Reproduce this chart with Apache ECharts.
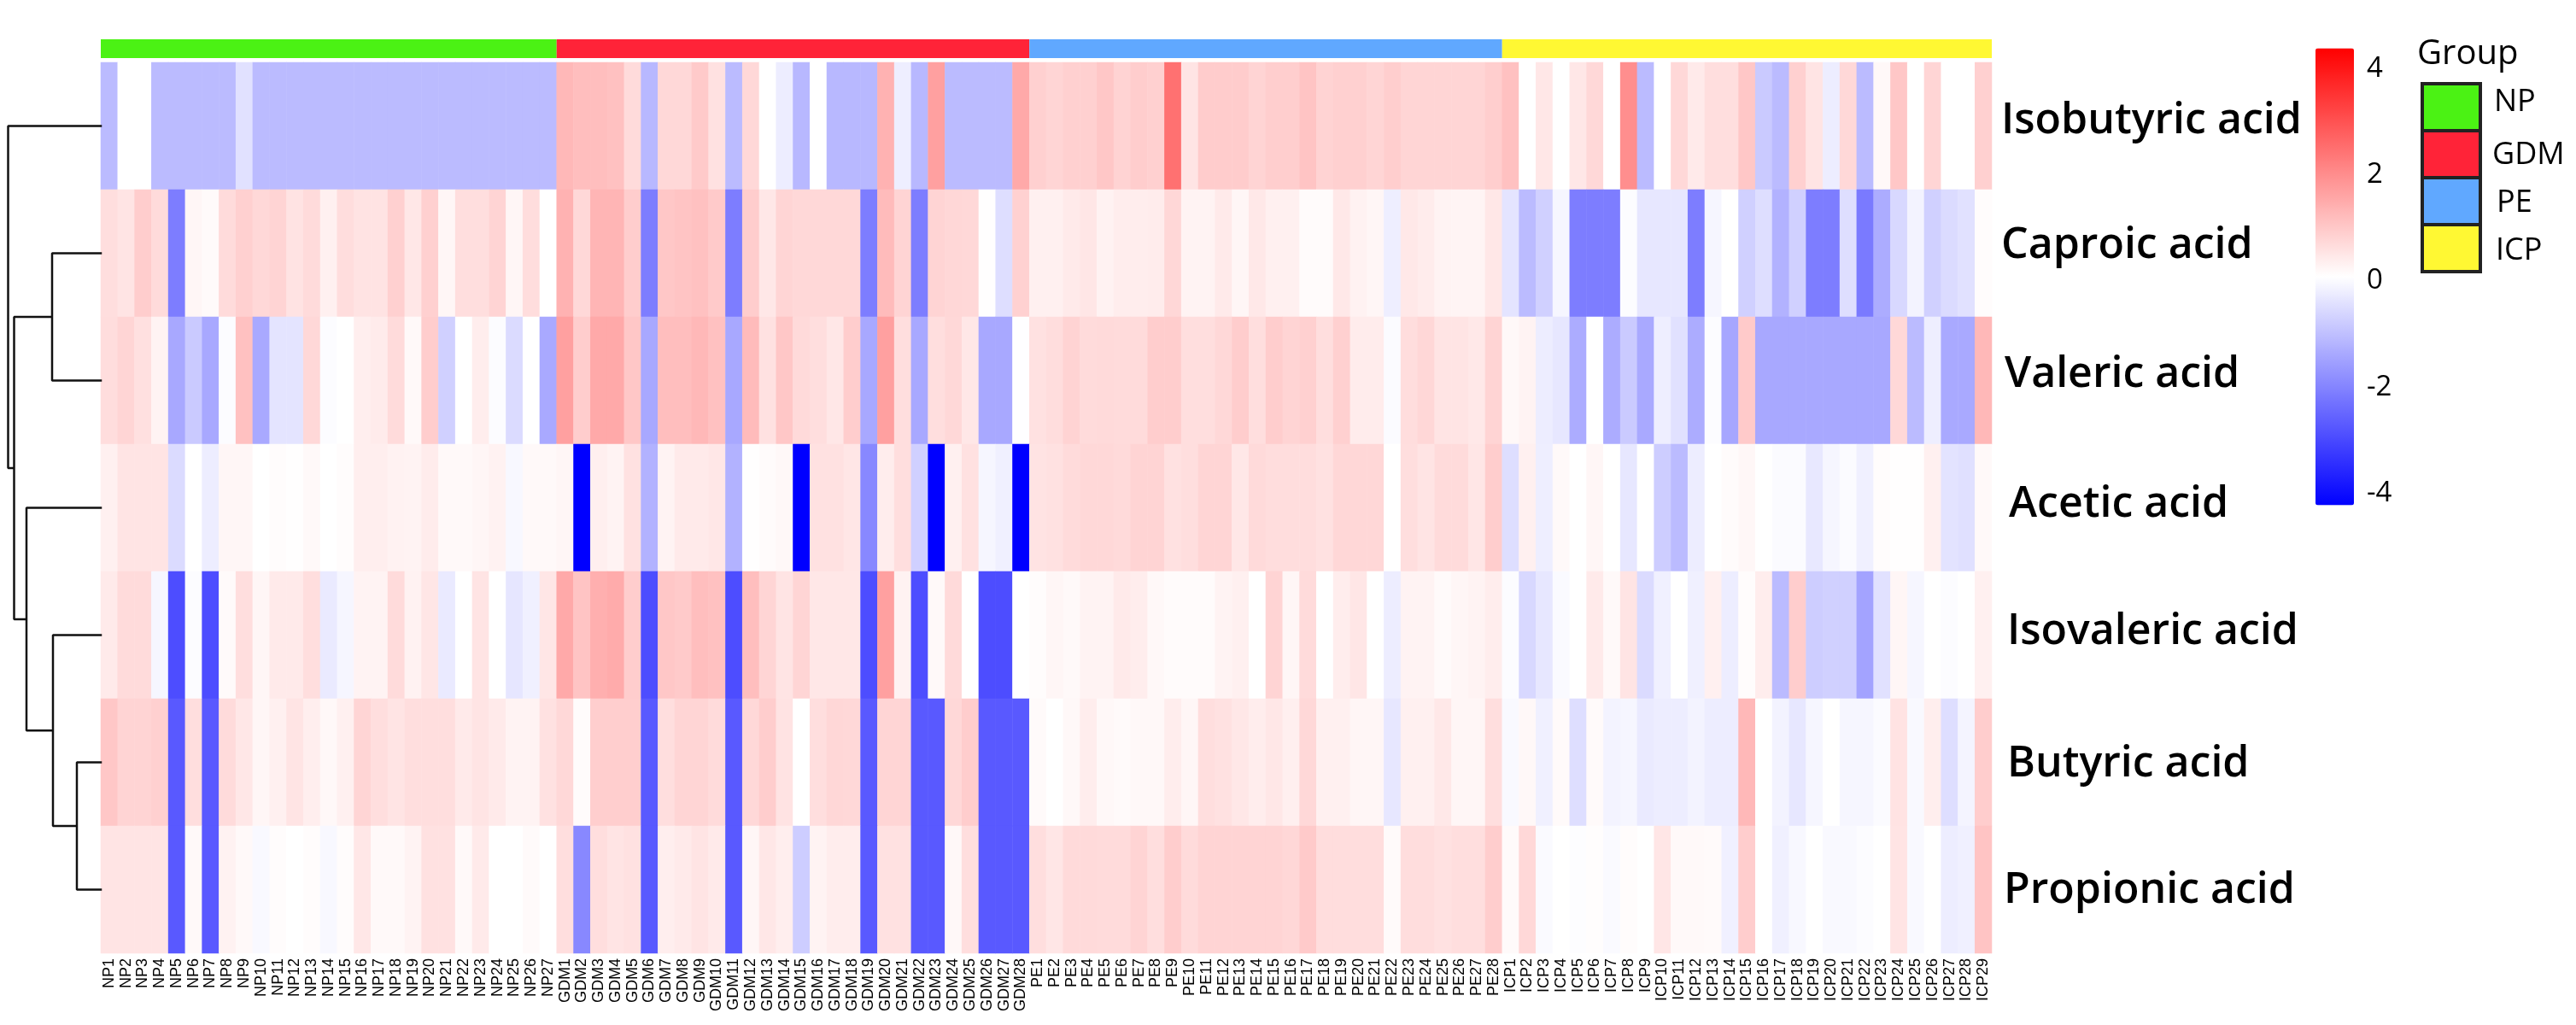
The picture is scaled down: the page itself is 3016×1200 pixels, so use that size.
<!DOCTYPE html>
<html><head><meta charset="utf-8">
<script src="https://cdn.jsdelivr.net/npm/echarts@6/dist/echarts.min.js"></script>
<style>html,body{margin:0;padding:0;background:#fff}#c{width:3016px;height:1200px}</style>
</head><body><div id="c"></div>
<script>
const acids = ['Isobutyric acid','Caproic acid','Valeric acid','Acetic acid','Isovaleric acid','Butyric acid','Propionic acid'];
const groupNames = ['NP','GDM','PE','ICP'];
const groupSizes = [27,28,28,29];
const colorTicks = [-4,-2,0,2,4];

const isobutyric = [
 -1.15,0,0,-1.15,-1.15,-1.15,-1.15,-1.15,-0.5,-1.15,-1.15,-1.15,-1.15,-1.15,-1.15,-1.15,-1.15,-1.15,-1.15,-1.15,-1.15,-1.15,-1.15,-1.15,-1.15,-1.15,-1.15,
 1.2,1.1,1.1,1.05,.6,-1.2,.65,.65,.9,.5,-1.15,.65,0,-.3,-1.2,0,-1.2,-1.2,-1.2,1.3,-.28,-1.2,1.6,-1.15,-1.15,-1.15,-1.15,1.45,
 .8,.7,.8,.8,.95,.75,.85,.8,2.4,.45,.86,.86,.86,.72,.82,.82,1,.75,.8,.8,.7,.82,.7,.7,.7,.7,.7,.82,
 1.05,0,.4,0,.4,.65,0,1.9,-1.15,0,.65,.35,.55,.55,.95,-.9,-1.15,.8,.45,-.3,.65,-1.15,.12,.95,0,.7,0,0,.8];
const caproic = [
 .55,.45,.85,.6,-2.2,.15,.08,.6,.8,.65,.72,.48,.6,.25,.58,.48,.48,.8,.4,.8,.15,.55,.55,.72,.15,.58,0,
 1.3,.65,1.25,1.25,.85,-2.2,.95,1,1.05,.9,-2.2,.85,.4,.7,.65,.65,.65,.65,-2.2,1.15,.72,-2.2,.72,.68,.65,.02,-.55,.78,
 .25,.25,.35,.42,.22,.3,.3,.32,.68,.2,.2,.35,.15,.38,.25,.25,.07,.07,.38,.22,.15,-.28,.38,.32,.2,.18,.18,.4,
 -.45,-1.15,-.8,-.15,-2.2,-2.2,-2.2,-.05,-.4,-.4,-.4,-2.2,-.15,0,-.8,-.55,-1.3,-.8,-2.2,-2.2,-.55,-2.25,-1.4,-.65,-.2,-.8,-.6,-.5,.05];
const valeric = [
 .57,.7,.52,.2,-1.47,-.9,-1.47,-.05,1.05,-1.45,-.45,-.45,.65,-.05,0,.28,.33,.6,.1,.85,-.8,0,.3,-.05,-.6,0,-1.45,
 1.6,.85,1.45,1.45,.95,-1.47,1.1,1.1,1.2,1.05,-1.47,1.15,.5,.95,.62,.55,.4,.85,-1.47,1.6,.55,-1.47,.55,.65,.4,-1.47,-1.47,-.02,
 .5,.58,.75,.6,.62,.6,.6,.85,.85,.55,.55,.65,.85,.55,.85,.72,.8,.55,.8,.32,.32,-.07,.58,.68,.45,.45,.38,.72,
 .12,.2,-.3,-.4,-1.4,0,-1.4,-.9,-1.45,-.28,-.5,-1.4,-.05,-1.5,.9,-1.47,-1.47,-1.47,-1.47,-1.47,-1.47,-1.47,-1.47,.65,-1.15,-.28,-1.45,-1.45,1.2];
const acetic = [
 .25,.45,.45,.45,-.6,0,-.3,.15,.15,0,.05,.02,.1,0,.05,.28,.28,.22,.2,.32,.1,.1,.15,.22,-.12,.1,.1,
 .15,-4.3,.27,.2,.5,-1.3,.2,.35,.35,.4,-1.3,.02,.07,.12,-4.3,.5,.5,.42,-2,.3,.55,-.8,-4.3,.25,.5,-.15,-.25,-4.3,
 .47,.5,.6,.65,.65,.62,.72,.72,.5,.55,.7,.7,.4,.62,.58,.58,.58,.5,.68,.68,.68,0,.55,.45,.6,.6,.42,.85,
 -.55,.25,-.28,.1,0,.15,0,-.4,0,-.85,-1.15,-.3,0,.07,.14,0,-.07,-.07,-.38,-.15,-.07,-.25,.05,.02,.02,.25,-.48,-.52,.1];
const isovaleric = [
 .35,.6,.6,-.15,-3,-.05,-3,.08,.55,.15,.35,.35,.55,-.35,-.15,.2,.2,.6,.22,.42,-.35,0,.45,0,-.42,-.25,.42,
 1.45,1,1.35,1.42,.85,-3,.95,.9,1.1,1.05,-3,1.1,.7,.45,.7,.4,.4,.4,-3,1.6,.22,-3,.1,.62,0,-3,-3,0,
 .05,.15,.1,.2,.2,.35,.3,.12,.07,.07,.07,.2,.25,0,.72,.15,.6,0,.3,.42,0,-.3,.2,.2,.08,.15,.2,.3,
 -.05,-.65,-.4,-.08,0,.35,.1,.45,-.6,-.25,0,-.25,.25,-.3,.05,.3,-1.15,.85,-.85,-.8,-.8,-1.55,-.5,.15,-.15,0,-.05,0,.25];
const butyric = [
 .95,.72,.72,.8,-2.8,.55,-2.8,.6,.4,.15,.25,.45,.28,.12,.25,.7,.55,.45,.55,.55,.55,.35,.45,.35,.2,.2,.5,
 .65,.07,.82,.82,.82,-2.8,.55,.7,.7,.6,-2.8,.65,.85,.48,0,.55,.68,.65,-2.8,.7,.7,-2.8,-2.8,.65,.85,-2.8,-2.8,-2.8,
 .08,0,.12,.3,.12,.08,.12,.12,.3,.15,.55,.5,.4,.3,.4,.27,.65,.25,.25,.15,.15,-.4,.25,.25,.38,.15,.15,.55,
 -.1,.12,-.25,.08,-.55,.08,-.2,-.15,-.35,-.3,-.3,-.2,-.3,-.3,1.2,0,-.2,-.4,-.15,0,-.15,-.15,-.07,.48,-.1,.28,-.55,-.18,.85];
const propionic = [
 .45,.45,.45,.45,-2.8,.1,-2.8,.22,.1,-.1,.05,0,.05,-.12,.05,.4,.1,.1,.2,.5,.5,.1,.35,0,0,.08,0,
 .55,-2,.55,.45,.5,-2.8,.28,.35,.45,.35,-2.8,.15,.4,.28,-.85,.2,.3,.3,-2.8,.5,.5,-2.8,-2.8,.12,.55,-2.8,-2.8,-2.8,
 .55,.42,.62,.62,.6,.6,.72,.55,.85,.6,.72,.72,.72,.72,.72,.68,.9,.58,.58,.58,.58,.08,.58,.58,.5,.55,.55,.85,
 .08,.65,-.08,0,-.03,.03,-.08,.05,0,.42,.1,.1,.08,-.25,.85,0,-.25,-.12,0,-.1,-.1,-.05,0,.45,-.1,0,-.3,-.25,1];
const rows = [isobutyric,caproic,valeric,acetic,isovaleric,butyric,propionic];

// Clustering of the rows: [left, right, height]; a number below 7 is a row, 7 + k is merge k
const merges = [[1,2,57],[5,6,28],[4,8,56],[3,9,87],[7,10,101.5],[0,11,108.5]];

// ---- styling / layout ----
const groupColors = ['#4BF214','#FF2338','#60A8FF','#FFF833'];
const GL = 118, GW = 2214, GT = 73, GH = 1043;
// [top, bottom, left] padding that nudges each row label
const labelShift = [[0,12,0],[0,18,0],[0,14,4],[0,8,9],[0,8,7],[4,0,7],[2,0,3]];
const FONT = '"Open Sans", sans-serif';

const samples = [];
groupNames.forEach((g,i)=>{ for(let k=1;k<=groupSizes[i];k++) samples.push(g+k); });

const heat = [];
rows.forEach((r,y)=>{ if(r.length!==samples.length) throw new Error('row '+y+' has '+r.length); r.forEach((v,x)=>heat.push([x,y,v])); });

// one span per group for the annotation strip
const spans = [];
let cursor = 0;
groupSizes.forEach((n,i)=>{ spans.push([cursor,cursor+n,i]); cursor+=n; });

// dendrogram polyline through the merges
const nodes = [];
const node = i => i<7 ? {y:i+0.5,h:0} : nodes[i-7];
const dendro = [];
merges.forEach(([a,b,h])=>{
  const A=node(a),B=node(b);
  dendro.push([A.h,A.y],[h,A.y],[h,B.y],[B.h,B.y],['-','-']);
  nodes.push({y:(A.y+B.y)/2,h});
});

const rich = {};
labelShift.forEach(([pt,pb,pl],i)=>{ rich['r'+i]={fontFamily:FONT,fontWeight:600,fontSize:50,color:'#000',padding:[pt,0,pb,pl]}; });

// legend
const LX=2836, LW=68, LY=98, LH=55;
const labelX=[2920,2918,2923,2922], labelY=[120,182,238,294];
const gfx=[{type:'text',x:2830,y:64,style:{text:'Group',fontFamily:FONT,fontSize:40,fill:'#000',verticalAlign:'middle'}}];
groupNames.forEach((g,i)=>{
  gfx.push({type:'rect',shape:{x:LX,y:LY+i*LH,width:LW,height:LH},style:{fill:groupColors[i],stroke:'#222',lineWidth:4}});
  gfx.push({type:'text',x:labelX[i],y:labelY[i],style:{text:g,fontFamily:FONT,fontSize:36,fill:'#000',verticalAlign:'middle'}});
});

const chart = echarts.init(document.getElementById('c'),null,{renderer:'canvas'});
chart.setOption({
  animation:false, backgroundColor:'#fff',
  grid:[
    {left:GL,width:GW,top:GT,height:GH},
    {left:GL,width:GW,top:46,height:22},
    {left:0,width:GL,top:GT,height:GH},
    {left:2756,width:1,top:61.5,height:535}
  ],
  xAxis:[
    {gridIndex:0,type:'category',data:samples,axisLine:{show:false},axisTick:{show:false},splitLine:{show:false},
     axisLabel:{interval:0,rotate:90,margin:6,fontSize:18,fontFamily:'"Liberation Sans"',color:'#000'}},
    {gridIndex:1,type:'value',min:0,max:samples.length,show:false},
    {gridIndex:2,type:'value',min:0,max:GL,inverse:true,show:false},
    {gridIndex:3,type:'value',min:0,max:1,show:false}
  ],
  yAxis:[
    {gridIndex:0,type:'category',data:acids,inverse:true,position:'right',axisLine:{show:false},axisTick:{show:false},splitLine:{show:false},
     axisLabel:{interval:0,margin:11,align:'left',formatter:(v,i)=>`{r${i}|${v}}`,rich}},
    {gridIndex:1,type:'value',min:0,max:1,show:false},
    {gridIndex:2,type:'value',min:0,max:7,inverse:true,show:false},
    {gridIndex:3,type:'value',min:-4.3,max:4.3,position:'right',axisLine:{show:false},axisTick:{show:false},splitLine:{show:false},
     axisLabel:{customValues:colorTicks,margin:14,align:'left',fontFamily:FONT,fontSize:33,color:'#000'}}
  ],
  visualMap:{type:'continuous',seriesIndex:0,min:-4.3,max:4.3,inRange:{color:['#0000ff','#ffffff','#ff0000']},
    left:2711,top:56.5,itemWidth:45,itemHeight:535,padding:0,calculable:false,realtime:false,text:null,showLabel:false,hoverLink:false},
  series:[
    {type:'heatmap',xAxisIndex:0,yAxisIndex:0,data:heat,silent:true,progressive:0},
    {type:'custom',xAxisIndex:1,yAxisIndex:1,data:spans,silent:true,
     renderItem:(p,api)=>{
       const a=api.coord([api.value(0),1]), b=api.coord([api.value(1),0]);
       return {type:'rect',shape:{x:a[0],y:a[1],width:b[0]-a[0],height:b[1]-a[1]},style:{fill:groupColors[api.value(2)]}};
     }},
    {type:'line',xAxisIndex:2,yAxisIndex:2,data:dendro,showSymbol:false,silent:true,connectNulls:false,
     lineStyle:{color:'#111',width:2.5,cap:'square'}}
  ],
  graphic:gfx
});
</script></body></html>
